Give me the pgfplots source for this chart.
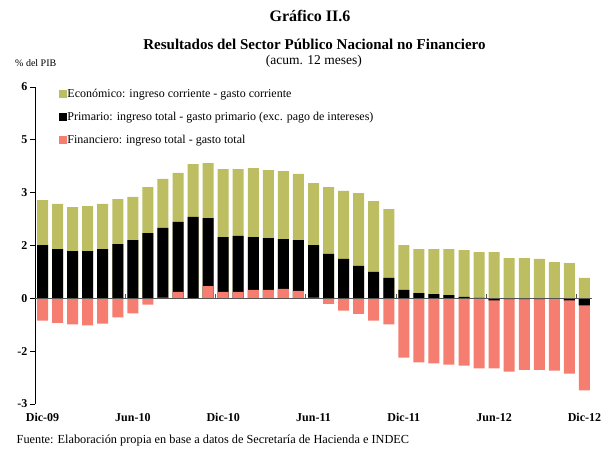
\documentclass[border=0pt]{standalone}
\usepackage{pgfplots}
\pgfplotsset{compat=1.18}
\usepackage{pgfplotstable}
\usepackage{fontspec}
\setmainfont{Liberation Serif}
\definecolor{econ}{RGB}{189,189,97}
\definecolor{fin}{RGB}{245,126,113}
\definecolor{zline}{RGB}{85,85,85}
\pgfplotstableread{
i econ prim fin primneg
0 2.79 1.51 -0.63 0
1 2.68 1.40 -0.70 0
2 2.59 1.34 -0.74 0
3 2.62 1.34 -0.77 0
4 2.68 1.40 -0.72 0
5 2.82 1.54 -0.54 0
6 2.88 1.65 -0.43 0
7 3.16 1.85 -0.18 0
8 3.39 2.00 0.02 0
9 3.56 2.17 0.18 0
10 3.81 2.31 0.00 0
11 3.84 2.28 0.35 0
12 3.67 1.74 0.18 0
13 3.67 1.77 0.18 0
14 3.70 1.74 0.24 0
15 3.64 1.71 0.24 0
16 3.61 1.68 0.27 0
17 3.53 1.65 0.21 0
18 3.27 1.51 0.02 0
19 3.16 1.26 -0.16 0
20 3.05 1.12 -0.35 0
21 2.99 0.92 -0.44 0
22 2.76 0.75 -0.63 0
23 2.53 0.58 -0.74 0
24 1.51 0.24 -1.68 0
25 1.40 0.15 -1.82 0
26 1.40 0.12 -1.85 0
27 1.40 0.09 -1.88 0
28 1.37 0.04 -1.91 0
29 1.31 0.01 -1.99 0
30 1.31 -0.06 -1.99 -0.06
31 1.14 -0.02 -2.08 -0.02
32 1.14 -0.02 -2.03 -0.02
33 1.12 -0.02 -2.03 -0.02
34 1.03 0.00 -2.05 0
35 1.00 -0.06 -2.14 -0.06
36 0.58 -0.20 -2.61 -0.20
}\datatable
\begin{document}
\begin{tikzpicture}
\path[use as bounding box] (0,0) rectangle (610pt,449pt);
\begin{axis}[
  at={(35pt,45pt)}, anchor=south west,
  scale only axis, width=557pt, height=317pt,
  xmin=-0.5, xmax=36.5, ymin=-3, ymax=6,
  axis x line*=bottom, axis y line*=left,
  x axis line style={draw=none},
  y axis line style={line width=0.9pt},
  xtick={0,6,12,18,24,30,36},
  xticklabels={Dic-09,Jun-10,Dic-10,Jun-11,Dic-11,Jun-12,Dic-12},
  x tick label style={font=\bfseries\fontsize{12}{14}\selectfont, yshift=-1pt},
  x tick style={draw=none},
  ytick={-3,-1.5,0,1.5,3,4.5,6},
  yticklabels={-3,-2,0,2,3,5,6},
  y tick label style={font=\bfseries\fontsize{12}{14}\selectfont, xshift=1pt},
  y tick style={line width=0.9pt, black},
  tick align=outside, major tick length=5pt,
  ybar, bar width=11pt, bar shift=0pt,
  clip=false,
  legend style={at={(axis description cs:0.0436,0.994)}, anchor=north west, draw=none, fill=none,
    font=\fontsize{12}{14}\selectfont, row sep=13pt, inner sep=0pt,
    nodes={inner sep=0pt},
    /tikz/every even column/.append style={column sep=2.5pt},
    cells={anchor=west}},
  legend image code/.code={\fill[#1] (0pt,-4pt) rectangle (8pt,4pt);},
]
\addplot[fill=econ, draw=none] table[x=i, y=econ] {\datatable};
\addlegendentry{Económico: ingreso corriente - gasto corriente}
\addplot[fill=black, draw=none] table[x=i, y=prim] {\datatable};
\addlegendentry{Primario: ingreso total - gasto primario (exc. pago de intereses)}
\addplot[fill=fin, draw=none] table[x=i, y=fin] {\datatable};
\addlegendentry{Financiero: ingreso total - gasto total}
\addplot[fill=black, draw=none, forget plot] table[x=i, y=primneg] {\datatable};
\draw[zline, line width=1.3pt] (axis cs:-0.5,0) -- (axis cs:36.5,0);
\pgfplotsinvokeforeach{5.5,11.5,17.5,23.5,29.5,35.5}{
  \draw[zline, line width=1pt] (axis cs:#1,0) -- ++(0pt,4pt);
}
\end{axis}
\node[font=\bfseries\fontsize{16}{18}\selectfont] at (310pt,433pt) {Gráfico II.6};
\node[font=\bfseries\fontsize{15}{17}\selectfont] at (314.5pt,405pt) {Resultados del Sector Público Nacional no Financiero};
\node[font=\fontsize{13.5}{15}\selectfont] at (313.8pt,388pt) {(acum. 12 meses)};
\node[font=\fontsize{10}{12}\selectfont, anchor=west, inner sep=0pt] at (15pt,386.3pt) {\% del PIB};
\node[font=\fontsize{12.3}{14}\selectfont, anchor=west, inner sep=0pt] at (16.5pt,8.3pt) {Fuente: Elaboración propia en base a datos de Secretaría de Hacienda e INDEC};
\end{tikzpicture}
\end{document}
